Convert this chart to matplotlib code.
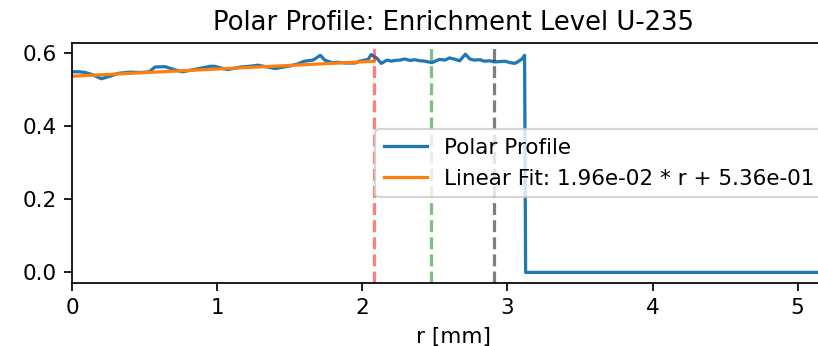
import numpy as np
import matplotlib
matplotlib.use("Agg")
import matplotlib.pyplot as plt

# Radial enrichment profile (r in mm)
r_profile = [0.00, 0.05, 0.09, 0.14, 0.20, 0.26, 0.32, 0.40, 0.47, 0.53,
             0.57, 0.64, 0.71, 0.76, 0.85, 0.95, 0.98, 1.07, 1.16, 1.22,
             1.28, 1.40, 1.50, 1.55, 1.60, 1.66, 1.71, 1.74, 1.79, 1.83,
             1.88, 1.95, 1.98, 2.04, 2.06, 2.10, 2.13, 2.17, 2.20, 2.22,
             2.26, 2.29, 2.33, 2.36, 2.40, 2.43, 2.48, 2.53, 2.57, 2.60,
             2.64, 2.67, 2.71, 2.74, 2.77, 2.81, 2.84, 2.88, 2.91, 2.95,
             2.98, 3.02, 3.05, 3.07, 3.10, 3.118, 3.125, 4.00, 5.25]
enrichment = [0.548, 0.548, 0.546, 0.540, 0.529, 0.536, 0.544, 0.547, 0.546, 0.548,
              0.561, 0.562, 0.553, 0.548, 0.555, 0.563, 0.563, 0.554, 0.561, 0.563,
              0.566, 0.557, 0.564, 0.569, 0.577, 0.580, 0.593, 0.580, 0.573, 0.574,
              0.572, 0.572, 0.577, 0.582, 0.595, 0.585, 0.571, 0.580, 0.577, 0.579,
              0.580, 0.583, 0.579, 0.581, 0.578, 0.577, 0.573, 0.582, 0.580, 0.586,
              0.582, 0.578, 0.596, 0.583, 0.580, 0.581, 0.577, 0.578, 0.575, 0.576,
              0.577, 0.573, 0.571, 0.575, 0.583, 0.593, 0.000, 0.000, 0.000]

# Linear fit parameters over the inner region
fit_slope = 1.96e-02
fit_intercept = 5.36e-01
fit_range = [0.0, 2.08]

# Region boundaries (mm)
boundaries = [2.08, 2.47, 2.906]
boundary_colors = ["r", "g", "k"]

DPI = 155
fig = plt.figure(figsize=(818 / DPI, 346 / DPI), dpi=DPI)
ax = fig.add_axes([0.0884, 0.1812, 0.931, 0.6936])

ax.plot(r_profile, enrichment, label="Polar Profile")
r_fit = np.array(fit_range)
ax.plot(r_fit, fit_slope * r_fit + fit_intercept,
        label=f"Linear Fit: {fit_slope:.2e} * r + {fit_intercept:.2e}")

for xb, c in zip(boundaries, boundary_colors):
    ax.axvline(xb, color=c, linestyle="--", alpha=0.5)

ax.set_xlim(0, max(r_profile))
ax.set_title("Polar Profile: Enrichment Level U-235")
ax.set_xlabel("r [mm]")
ax.legend(loc="center right")

fig.savefig("out.png", dpi=DPI)
